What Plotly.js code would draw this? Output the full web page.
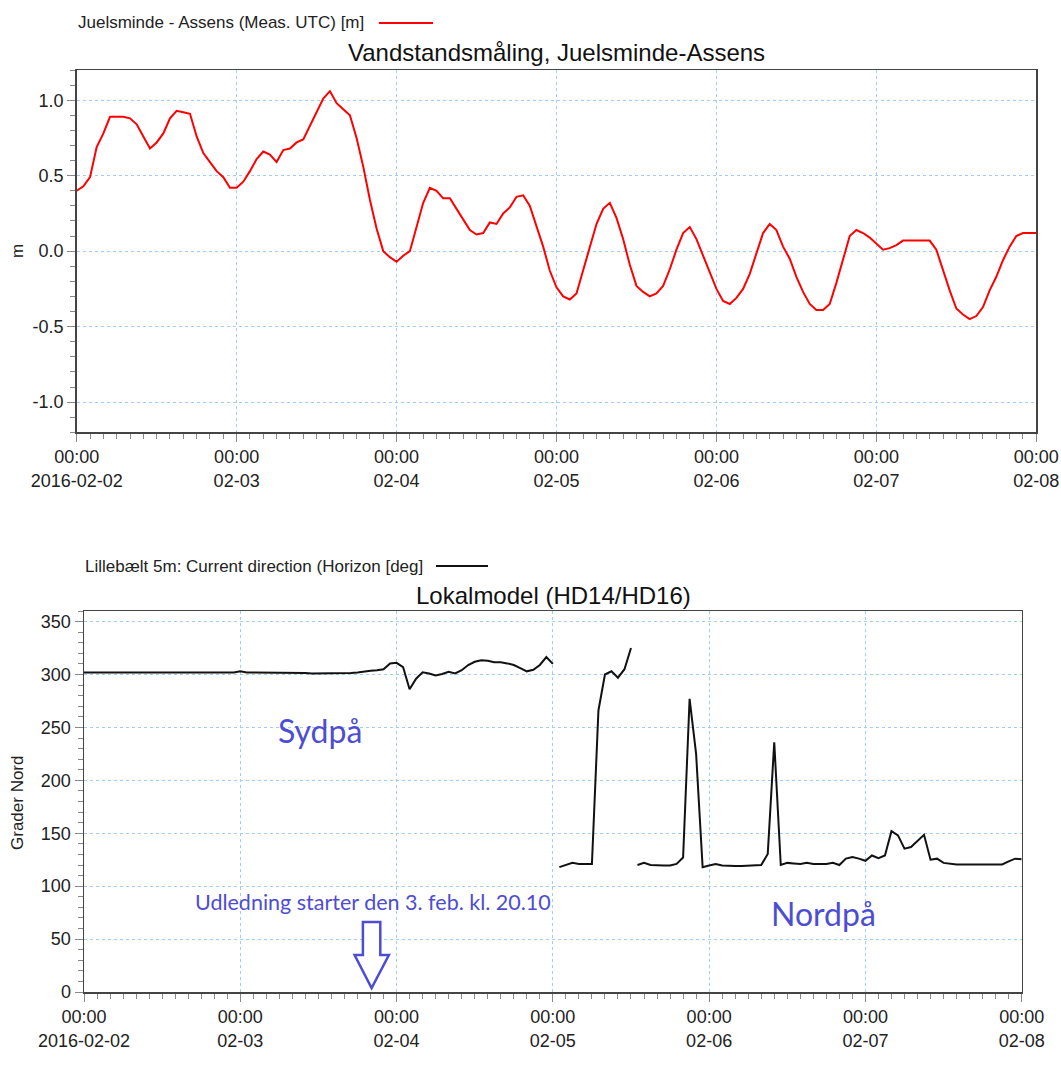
<!DOCTYPE html>
<html>
<head>
<meta charset="utf-8">
<script src="https://cdn.plot.ly/plotly-3.0.1.min.js"></script>
<style>html,body{margin:0;padding:0;background:#fff;}#chart{width:1061px;height:1073px;}</style>
</head>
<body>
<div id="chart"></div>
<script>
// ---------- DATA ----------
const startDate = '2016-02-02';
// Water level, hourly from 2016-02-02 00:00 [m]
const waterLevel = [
  0.40,0.43,0.49,0.69,0.78,0.89,0.89,0.89,0.88,0.84,
  0.76,0.68,0.72,0.78,0.88,0.93,0.92,0.91,0.76,0.65,
  0.59,0.53,0.49,0.42,0.42,0.46,0.53,0.61,0.66,0.64,
  0.59,0.67,0.68,0.72,0.74,0.83,0.93,1.01,1.06,0.98,
  0.94,0.90,0.75,0.56,0.34,0.15,0.00,-0.04,-0.07,-0.03,
  0.00,0.16,0.32,0.42,0.40,0.35,0.35,0.28,0.21,0.14,
  0.11,0.12,0.19,0.18,0.25,0.29,0.36,0.37,0.30,0.17,
  0.03,-0.13,-0.24,-0.30,-0.32,-0.28,-0.13,0.03,0.18,0.28,
  0.32,0.22,0.08,-0.09,-0.23,-0.27,-0.30,-0.28,-0.23,-0.12,
  0.01,0.12,0.16,0.08,-0.03,-0.14,-0.25,-0.33,-0.35,-0.31,
  -0.25,-0.15,-0.01,0.12,0.18,0.14,0.03,-0.05,-0.17,-0.27,
  -0.35,-0.39,-0.39,-0.35,-0.21,-0.05,0.10,0.14,0.12,0.09,
  0.05,0.01,0.02,0.04,0.07,0.07,0.07,0.07,0.07,0.01,
  -0.13,-0.26,-0.38,-0.42,-0.45,-0.43,-0.37,-0.26,-0.17,-0.06,
  0.03,0.10,0.12,0.12,0.12
];
// Current direction, hourly from 2016-02-02 00:00 [deg]
const currentDir = [
  302,302,302,302,302,302,302,302,302,302,
  302,302.5,302.5,302,302,302,302,302,302,302,
  302,302,302,302,303,302,302,302,302,302,
  302,302,302,302,301.5,301,301,301,301,301,
  301,301.5,302,303,303.5,304,305,310.5,311,307,
  286,296,302,301,299,300.5,302.5,301,304,309,
  312,313.5,313,311.5,311.5,310.5,309,306,303,304.5,
  309,316.5,310,118,120,122,121,121,121,266,
  300,303,297,305,325,120,122,120,119.5,119.5,
  119.5,121,127,277,225,118,119.5,121,119.5,119,
  119,119,119.5,120,120,130.5,236,120,122,121.5,
  121,122,121,121,121,122,120,126,127.5,126,
  124,129,126.5,129,152,148,135.5,137,143,148.5,
  125,126,122,121,120.5,120.5,120.5,120.5,121,121,
  121,120.5,123.5,126,125.5
];
const dayTicks = ['2016-02-02','2016-02-03','2016-02-04','2016-02-05','2016-02-06','2016-02-07','2016-02-08'];
const dayTickText = ['00:00<br>2016-02-02','00:00<br>02-03','00:00<br>02-04','00:00<br>02-05','00:00<br>02-06','00:00<br>02-07','00:00<br>02-08'];
const levelTicks = [-1.0,-0.5,0.0,0.5,1.0];
const levelTickText = ['-1.0','-0.5','0.0','0.5','1.0'];
const dirTicks = [0,50,100,150,200,250,300,350];
const topLegend = 'Juelsminde - Assens (Meas. UTC) [m]';
const bottomLegend = 'Lillebælt 5m: Current direction (Horizon [deg]';
const topTitle = 'Vandstandsmåling, Juelsminde-Assens';
const bottomTitle = 'Lokalmodel (HD14/HD16)';
const releaseTime = '2016-02-03 20:10';
const releaseText = 'Udledning starter den 3. feb. kl. 20.10';
const southText = 'Sydpå';
const northText = 'Nordpå';

// ---------- HELPERS ----------
function hourStr(h) {
  const d = new Date(Date.UTC(2016, 1, 2, h));
  const p = n => String(n).padStart(2, '0');
  return d.getUTCFullYear() + '-' + p(d.getUTCMonth() + 1) + '-' + p(d.getUTCDate()) + ' ' + p(d.getUTCHours()) + ':00';
}
const W = 1061, H = 1073;
const px = x => x / W;
const py = y => 1 - y / H;

const levelX = waterLevel.map((v, i) => hourStr(i));

// direction: break the line where it wraps (jump > 180 deg)
const dirX = [], dirY = [];
currentDir.forEach((v, i) => {
  if (i > 0 && Math.abs(v - currentDir[i - 1]) > 180) { dirX.push(hourStr(i)); dirY.push(null); }
  dirX.push(hourStr(i)); dirY.push(v);
});

const FONT = 'Liberation Sans, Arial, sans-serif';
const CAL = 'Lato, Open Sans, sans-serif';
const BLUE = '#4d4dd3';
const GRID = 'rgb(160,205,250)';

function xAxis(domain, anchor) {
  return {
    type: 'date', domain: domain, anchor: anchor,
    range: ['2016-02-02 00:00', '2016-02-08 00:00'],
    tickmode: 'array', tickvals: dayTicks, ticktext: dayTickText,
    ticks: 'outside', ticklen: 8, tickcolor: '#888', tickwidth: 1,
    minor: { dtick: 2 * 3600 * 1000, tick0: startDate, ticks: 'outside', ticklen: 5, tickcolor: '#888', showgrid: false },
    showgrid: true, gridcolor: GRID, griddash: 'dot', gridwidth: 1,
    showline: true, mirror: true, linecolor: '#444', linewidth: 1.5,
    zeroline: false, tickfont: { family: FONT, size: 18, color: '#222' },
    fixedrange: true
  };
}

const traces = [
  { x: levelX, y: waterLevel, type: 'scatter', mode: 'lines', name: topLegend,
    line: { color: '#ff0000', width: 2 }, xaxis: 'x', yaxis: 'y', showlegend: false },
  { x: dirX, y: dirY, type: 'scatter', mode: 'lines', name: bottomLegend, connectgaps: false,
    line: { color: '#111111', width: 2 }, xaxis: 'x2', yaxis: 'y2', showlegend: false }
];

const layout = {
  width: W, height: H,
  margin: { l: 0, r: 0, t: 0, b: 0 },
  paper_bgcolor: '#ffffff', plot_bgcolor: '#ffffff',
  showlegend: false,
  font: { family: FONT, color: '#222' },
  xaxis: xAxis([px(76.7), px(1036.3)], 'y'),
  yaxis: {
    domain: [py(432.3), py(70)], anchor: 'x',
    range: [-1.2, 1.2], tickmode: 'array', tickvals: levelTicks, ticktext: levelTickText,
    ticks: 'outside', ticklen: 8, tickcolor: '#888',
    minor: { dtick: 0.1, tick0: 0, ticks: 'outside', ticklen: 5, tickcolor: '#888', showgrid: false },
    showgrid: true, gridcolor: GRID, griddash: 'dot', gridwidth: 1,
    showline: true, mirror: true, linecolor: '#444', linewidth: 1.5,
    zeroline: false, tickfont: { family: FONT, size: 18, color: '#222' }, fixedrange: true
  },
  xaxis2: xAxis([px(84), px(1021.7)], 'y2'),
  yaxis2: {
    domain: [py(992), py(611)], anchor: 'x2',
    range: [0, 360], tickmode: 'array', tickvals: dirTicks,
    ticks: 'outside', ticklen: 8, tickcolor: '#888',
    minor: { dtick: 10, tick0: 0, ticks: 'outside', ticklen: 5, tickcolor: '#888', showgrid: false },
    showgrid: true, gridcolor: GRID, griddash: 'dot', gridwidth: 1,
    showline: true, mirror: true, linecolor: '#444', linewidth: 1.5,
    zeroline: false, tickfont: { family: FONT, size: 18, color: '#222' }, fixedrange: true
  },
  annotations: [
    { text: topTitle, xref: 'paper', yref: 'paper', x: px(556.5), y: py(53), xanchor: 'center', yanchor: 'middle',
      showarrow: false, font: { family: FONT, size: 24, color: '#111' } },
    { text: bottomTitle, xref: 'paper', yref: 'paper', x: px(553), y: py(595), xanchor: 'center', yanchor: 'middle',
      showarrow: false, font: { family: FONT, size: 24, color: '#111' } },
    { text: topLegend, xref: 'paper', yref: 'paper', x: px(76), y: py(23), xanchor: 'left', yanchor: 'middle',
      showarrow: false, font: { family: FONT, size: 17, color: '#222' } },
    { text: bottomLegend, xref: 'paper', yref: 'paper', x: px(83), y: py(566), xanchor: 'left', yanchor: 'middle',
      showarrow: false, font: { family: FONT, size: 17, color: '#222' } },
    { text: 'm', xref: 'paper', yref: 'paper', x: px(17), y: py(251), xanchor: 'center', yanchor: 'middle', textangle: -90,
      showarrow: false, font: { family: FONT, size: 17, color: '#222' } },
    { text: 'Grader Nord', xref: 'paper', yref: 'paper', x: px(17), y: py(803), xanchor: 'center', yanchor: 'middle', textangle: -90,
      showarrow: false, font: { family: FONT, size: 17, color: '#222' } },
    { text: southText, xref: 'paper', yref: 'paper', x: px(319.5), y: py(730), xanchor: 'center', yanchor: 'middle',
      showarrow: false, font: { family: CAL, size: 32, color: BLUE } },
    { text: northText, xref: 'paper', yref: 'paper', x: px(823), y: py(913), xanchor: 'center', yanchor: 'middle',
      showarrow: false, font: { family: CAL, size: 32, color: BLUE } },
    { text: releaseText, xref: 'paper', yref: 'paper', x: px(373), y: py(902), xanchor: 'center', yanchor: 'middle',
      showarrow: false, font: { family: CAL, size: 21.5, color: BLUE } }
  ],
  shapes: [
    { type: 'line', xref: 'paper', yref: 'paper', x0: px(379), x1: px(433), y0: py(23), y1: py(23),
      line: { color: '#ff0000', width: 2 } },
    { type: 'line', xref: 'paper', yref: 'paper', x0: px(436), x1: px(488), y0: py(566), y1: py(566),
      line: { color: '#111111', width: 2 } },
    { type: 'path', xref: 'x2', yref: 'y2', xsizemode: 'pixel', ysizemode: 'pixel',
      xanchor: releaseTime, yanchor: 0,
      path: 'M -8.7,70 L 8.7,70 L 8.7,37 L 17.3,37 L 0,4 L -17,37 L -8.7,37 Z',
      line: { color: BLUE, width: 2.5 }, fillcolor: '#ffffff' }
  ]
};

Plotly.newPlot('chart', traces, layout, { displayModeBar: false, staticPlot: true });
</script>
</body>
</html>
